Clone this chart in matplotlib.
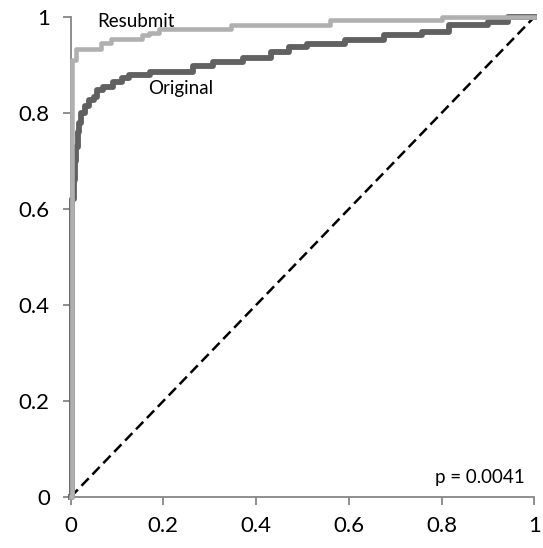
import matplotlib
matplotlib.use('Agg')
import matplotlib.pyplot as plt

plt.rcParams['font.family'] = ['Lato', 'DejaVu Sans']
plt.rcParams['lines.scale_dashes'] = False

# ROC step points: false positive rate where each level starts, true positive rate of that level
original_fpr = [0.0, 0.003, 0.008, 0.010, 0.012, 0.015, 0.018, 0.022, 0.03, 0.04,
                0.05, 0.058, 0.07, 0.092, 0.111, 0.125, 0.171, 0.264, 0.307, 0.372,
                0.432, 0.47, 0.51, 0.592, 0.676, 0.758, 0.816, 0.9, 0.944, 1.0]
original_tpr = [0.0, 0.62, 0.66, 0.70, 0.73, 0.76, 0.78, 0.80, 0.815, 0.827,
                0.834, 0.848, 0.855, 0.865, 0.872, 0.879, 0.886, 0.897, 0.907, 0.914,
                0.928, 0.937, 0.944, 0.952, 0.962, 0.969, 0.983, 0.99, 1.0, 1.0]

resubmit_fpr = [0.0, 0.003, 0.012, 0.066, 0.087, 0.155, 0.17, 0.19, 0.345, 0.559, 0.8, 1.0]
resubmit_tpr = [0.0, 0.91, 0.933, 0.945, 0.955, 0.962, 0.967, 0.976, 0.983, 0.994, 1.0, 1.0]

chance = [0.0, 1.0]
ticks = [0, 0.2, 0.4, 0.6, 0.8, 1]
tick_labels = ['0', '0.2', '0.4', '0.6', '0.8', '1']
p_value = 0.0041

AXIS_GREY = '#868686'

fig = plt.figure(figsize=(5.43, 5.48), dpi=100)
ax = fig.add_axes([0.130, 0.093, 0.854, 0.876])

ax.plot(chance, chance, color='black', lw=1.8, dashes=(7.5, 3.8), clip_on=False, zorder=2)
ax.plot(original_fpr, original_tpr, drawstyle='steps-post', color='#616161', lw=4.2,
        clip_on=False, zorder=3)
ax.plot(resubmit_fpr, resubmit_tpr, drawstyle='steps-post', color='#b0b0b0', lw=3.3,
        clip_on=False, zorder=4)

ax.text(0.057, 0.99, 'Resubmit', fontsize=13.5, ha='left', va='center')
ax.text(0.167, 0.852, 'Original', fontsize=13.5, ha='left', va='center')
ax.text(0.979, 0.04, f'p = {p_value}', fontsize=13.5, ha='right', va='center')

ax.set_xlim(0, 1)
ax.set_ylim(0, 1)
ax.set_xticks(ticks)
ax.set_xticklabels(tick_labels)
ax.set_yticks(ticks)
ax.set_yticklabels(tick_labels)

for side in ['top', 'right']:
    ax.spines[side].set_visible(False)
for side in ['left', 'bottom']:
    ax.spines[side].set_color(AXIS_GREY)
    ax.spines[side].set_linewidth(1.3)

ax.tick_params(axis='both', direction='out', length=6, width=1.3, color=AXIS_GREY,
               labelsize=16, labelcolor='black')
ax.tick_params(axis='x', pad=8)
ax.tick_params(axis='y', pad=9)

fig.savefig('out.png', dpi=100)
